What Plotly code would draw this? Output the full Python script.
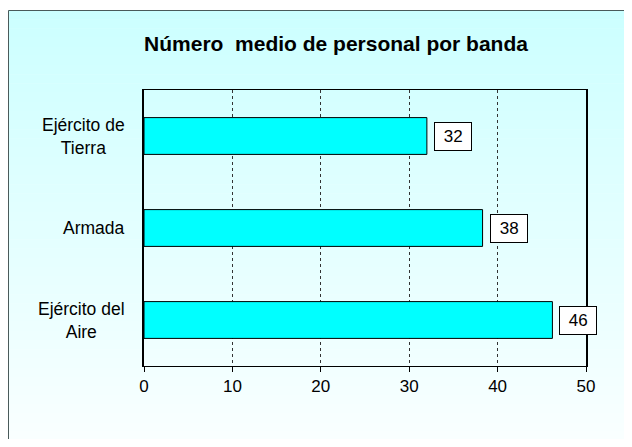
import plotly.graph_objects as go

# Chart data
categories = ["Ejército de<br>Tierra", "Armada", "Ejército del<br>Aire"]
values = [32, 38.3, 46.2]
value_labels = ["32", "38", "46"]
x_ticks = [0, 10, 20, 30, 40, 50]

title_text = "Número&nbsp;&nbsp;medio de personal por banda"
FONT = "Liberation Sans, Arial, sans-serif"

# the page body adds an 8px margin all round; size the figure so the page
# does not scroll, and shift the page pixel positions below by OFF
OFF = 8
W, H = 632 - OFF, 447 - 2 * OFF
L, R, T, B = 144 - OFF, W - (586 - OFF), 90 - OFF, H - (366 - OFF)
pw, ph = W - L - R, H - T - B


def px_x(px):
    return (px - OFF - L) / pw


def px_y(py):
    return (H - B - (py - OFF)) / ph


fig = go.Figure()
fig.add_trace(go.Bar(
    x=values,
    y=categories,
    orientation="h",
    width=0.4,
    marker=dict(color="#00FFFF", line=dict(color="black", width=1)),
    hoverinfo="x+y",
))

# background gradient (light cyan at top fading to near white)
shapes = []
n = 48
top, bottom = 10, 450
for i in range(n):
    y0 = top + (bottom - top) * i / n
    y1 = top + (bottom - top) * (i + 1) / n + 0.5
    t = i / (n - 1)
    r = int(round(204 + (250 - 204) * t))
    shapes.append(dict(
        type="rect", xref="paper", yref="paper", layer="below",
        x0=px_x(8), x1=px_x(660), y0=px_y(y1), y1=px_y(y0),
        fillcolor=f"rgb({r},255,255)", line=dict(width=0),
    ))
# outer frame
shapes.append(dict(
    type="rect", xref="paper", yref="paper", layer="below",
    x0=px_x(8.5), x1=px_x(660), y0=px_y(460), y1=px_y(10.5),
    fillcolor="rgba(0,0,0,0)", line=dict(color="#4a5a5a", width=1),
))

annotations = []
# category labels, centred lines
for cat in categories:
    annotations.append(dict(
        x=0, xref="paper", y=cat, yref="y", xanchor="right", yanchor="middle",
        xshift=-17, text=cat, align="center", showarrow=False,
        font=dict(family=FONT, size=17.5, color="black"),
    ))
# value labels in boxes
for cat, v, lab in zip(categories, values, value_labels):
    annotations.append(dict(
        x=v, xref="x", y=cat, yref="y", xanchor="left", yanchor="middle",
        xshift=7, text="&nbsp;" + lab + "&nbsp;", showarrow=False,
        bgcolor="white", bordercolor="black", borderwidth=1, borderpad=4,
        font=dict(family=FONT, size=17, color="black"),
    ))

fig.update_layout(
    width=W, height=H,
    margin=dict(l=L, r=R, t=T, b=B),
    paper_bgcolor="white",
    plot_bgcolor="rgba(0,0,0,0)",
    showlegend=False,
    title=dict(
        text=title_text, x=(336 - OFF) / W, xref="container", xanchor="center",
        y=1 - (44 - OFF) / H, yref="container", yanchor="middle",
        font=dict(family=FONT, size=21, color="black", weight="bold"),
    ),
    shapes=shapes,
    annotations=annotations,
    font=dict(family=FONT, size=17, color="black"),
)

fig.update_xaxes(
    range=[0, 50], tickvals=x_ticks, ticks="outside", ticklen=5,
    tickcolor="black", tickwidth=1,
    showline=True, linecolor="black", linewidth=1, mirror=True,
    showgrid=True, gridcolor="#333333", griddash="dot", gridwidth=1,
    zeroline=False, tickfont=dict(family=FONT, size=17, color="black"),
)
fig.update_yaxes(
    categoryorder="array", categoryarray=categories, autorange="reversed",
    showticklabels=False, ticks="",
    showline=True, linecolor="black", linewidth=1.5, mirror=True,
    showgrid=False, zeroline=False,
)

fig.write_html("out.html")
